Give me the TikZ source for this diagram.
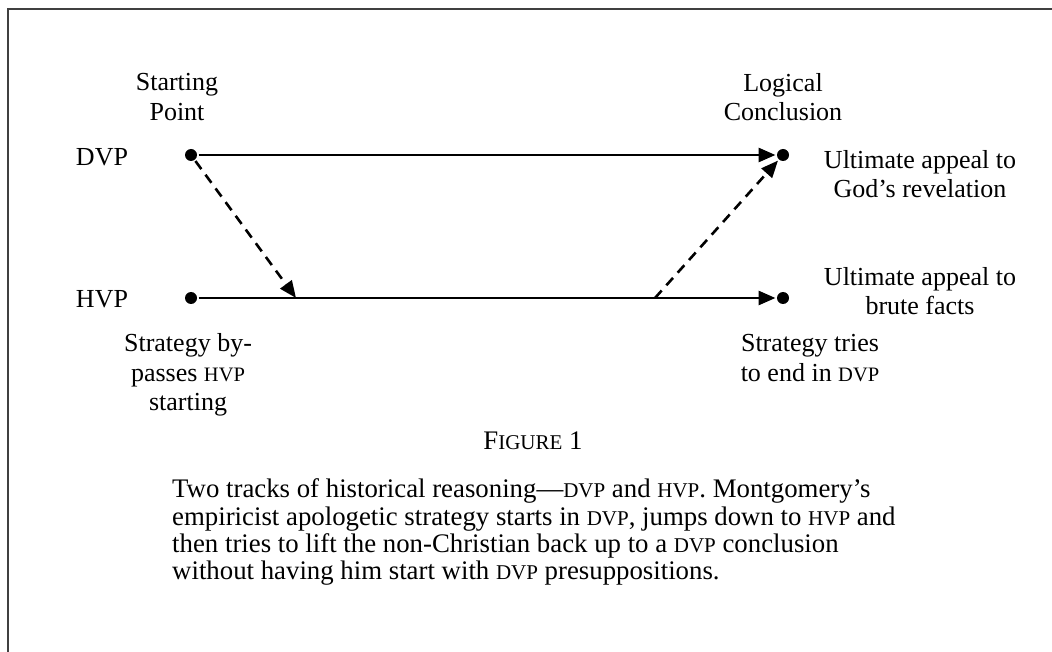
\documentclass[tikz,border=0pt]{standalone}
\usepackage{fontspec}
\setmainfont{Liberation Serif}
\usetikzlibrary{arrows.meta}
\newcommand\lblsc[1]{{\fontsize{20.5}{29}\selectfont #1}}
\newcommand\capsc[1]{{\fontsize{21}{27.3}\selectfont #1}}
\begin{document}
\begin{tikzpicture}[x=1pt,y=-1pt,
  dot/.style={circle,fill=black,inner sep=0pt,minimum size=12pt,outer sep=1.5pt},
  lbl/.style={align=center,inner sep=0pt,font=\fontsize{26}{29.5}\selectfont},
  captxt/.style={align=left,inner sep=0pt,font=\fontsize{26.8}{27.3}\selectfont},
  track/.style={line width=2.8pt,-{Triangle[length=17pt,width=14pt]}},
  jump/.style={line width=2.6pt,dash pattern=on 10pt off 7pt,-{Triangle[length=17pt,width=14pt]}},
  frame/.style={line width=1.8pt,draw=black!75}]
\useasboundingbox (0,0) rectangle (1052,652);
\draw[frame] (8,652) -- (8,9) -- (1052,9);
% dots
\node[dot] (dvpS) at (191,155) {};
\node[dot] (hvpS) at (191,298) {};
\node[dot] (dvpE) at (783,155) {};
\node[dot] (hvpE) at (783,298) {};
\coordinate (drop) at (296,298);
\coordinate (lift) at (655,298);
% track labels
\node[lbl] (dvp) at (102,157) {DVP};
\node[lbl] (hvp) at (102,299) {HVP};
\node[lbl] (start) at (177,97) {Starting\\Point};
\node[lbl] (concl) at (783,97) {Logical\\Conclusion};
\node[lbl] (god) at (920,174) {Ultimate appeal to\\God’s revelation};
\node[lbl] (brute) at (920,291) {Ultimate appeal to\\brute facts};
\node[lbl] (bypass) at (188,375) {Strategy by-\\passes \lblsc{HVP}\\starting};
\node[lbl] (tries) at (810,358) {Strategy tries\\to end in \lblsc{DVP}};
% connectors
\draw[track] (dvpS) -- (dvpE);
\draw[track] (hvpS) -- (hvpE);
\draw[jump] (dvpS) -- (drop);
\draw[jump] (lift) -- (dvpE);
% caption
\node[font=\fontsize{26.8}{27.3}\selectfont,inner sep=0pt] (fig) at (533,441) {F\capsc{IGURE} 1};
\node[captxt,anchor=north west] (text) at (172,478.7) {Two tracks of historical reasoning—\capsc{DVP} and \capsc{HVP}. Montgomery’s\\
empiricist apologetic strategy starts in \capsc{DVP}, jumps down to \capsc{HVP} and\\
then tries to lift the non-Christian back up to a \capsc{DVP} conclusion\\
without having him start with \capsc{DVP} presuppositions.};
\end{tikzpicture}
\end{document}
